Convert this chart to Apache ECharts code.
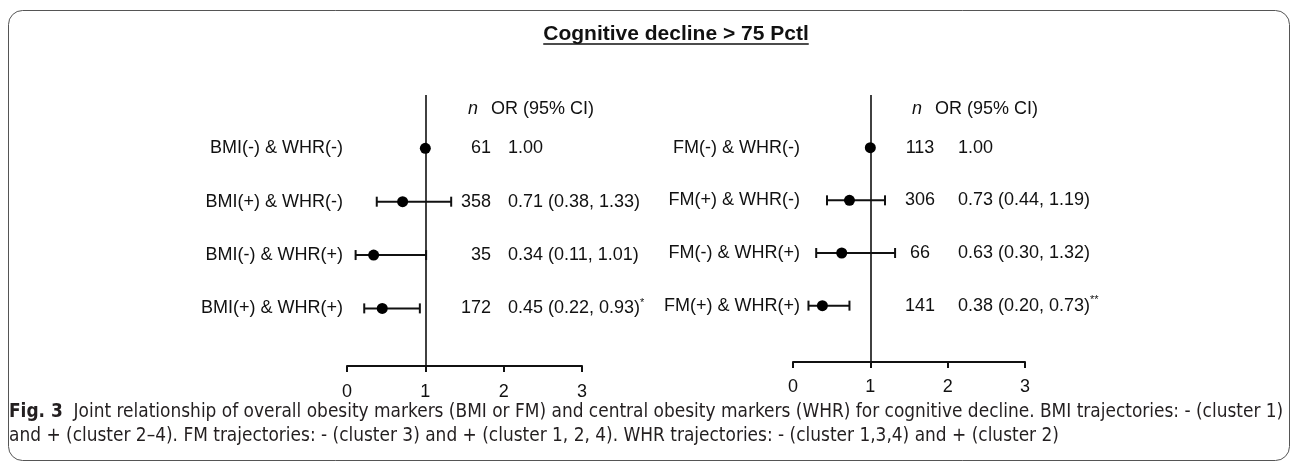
<!DOCTYPE html>
<html>
<head>
<meta charset="utf-8">
<title>Cognitive decline forest plot</title>
<script src="https://cdn.jsdelivr.net/npm/echarts@6/dist/echarts.min.js"></script>
<style>
  html, body { margin: 0; padding: 0; background: #fff; }
  #main { width: 1295px; height: 465px; }
</style>
</head>
<body>
<div id="main"></div>
<script>
// ---- data ----
var xTicks = [0, 1, 2, 3];
var rows = [1, 2, 3, 4];

var bmiLabels = ['BMI(-) & WHR(-)', 'BMI(+) & WHR(-)', 'BMI(-) & WHR(+)', 'BMI(+) & WHR(+)'];
var bmiN = [61, 358, 35, 172];
var bmiOR = [1.00, 0.71, 0.34, 0.45];
var bmiLow = [null, 0.38, 0.11, 0.22];
var bmiHigh = [null, 1.33, 1.01, 0.93];
var bmiSig = ['', '', '', '*'];

var fmLabels = ['FM(-) & WHR(-)', 'FM(+) & WHR(-)', 'FM(-) & WHR(+)', 'FM(+) & WHR(+)'];
var fmN = [113, 306, 66, 141];
var fmOR = [1.00, 0.73, 0.63, 0.38];
var fmLow = [null, 0.44, 0.30, 0.20];
var fmHigh = [null, 1.19, 1.32, 0.73];
var fmSig = ['', '', '', '**'];

var titleText = 'Cognitive decline > 75 Pctl';
var captionLead = 'Fig. 3';
var captionLine1 = 'Joint relationship of overall obesity markers (BMI or FM) and central obesity markers (WHR) for cognitive decline. BMI trajectories: - (cluster 1)';
var captionLine2 = 'and + (cluster 2\u20134). FM trajectories: - (cluster 3) and + (cluster 1, 2, 4). WHR trajectories: - (cluster 1,3,4) and + (cluster 2)';

// ---- layout ----
var FONT = '"Liberation Sans", Arial, sans-serif';
var CAPFONT = '"Liberation Sans Narrow", "DejaVu Sans Condensed", sans-serif';
var INK = '#111';
var CAPINK = '#231f20';

var panels = [
  { labels: bmiLabels, n: bmiN, or: bmiOR, low: bmiLow, high: bmiHigh, sig: bmiSig,
    grid: { left: 347, top: 95, width: 235, height: 271 }, yMax: 5.08, labelMargin: 17,
    labelRight: 343, nX: 491, nAlign: 'right', orX: 508, headNX: 473, headORX: 491 },
  { labels: fmLabels, n: fmN, or: fmOR, low: fmLow, high: fmHigh, sig: fmSig,
    grid: { left: 793, top: 95, width: 232, height: 267 }, yMax: 5.07, labelMargin: 16,
    labelRight: 800, nX: 920, nAlign: 'center', orX: 958, headNX: 917, headORX: 935 }
];

var chart = echarts.init(document.getElementById('main'), null, { renderer: 'canvas' });

var grids = [], xAxes = [], yAxes = [], series = [];

panels.forEach(function (p, k) {
  grids.push({ left: p.grid.left, top: p.grid.top, width: p.grid.width, height: p.grid.height });
  xAxes.push({
    type: 'value', gridIndex: k, position: 'bottom',
    min: xTicks[0], max: xTicks[xTicks.length - 1], interval: 1,
    splitLine: { show: false },
    axisLine: { show: true, onZero: false, lineStyle: { color: INK, width: 2 } },
    axisTick: { show: true, length: 6, lineStyle: { color: INK, width: 2 } },
    axisLabel: { color: INK, fontSize: 18, fontFamily: FONT, margin: p.labelMargin }
  });
  yAxes.push({
    type: 'value', gridIndex: k, min: 0, max: p.yMax, inverse: true, show: false
  });

  // reference line at OR = 1
  series.push({
    type: 'line', xAxisIndex: k, yAxisIndex: k, data: [], silent: true,
    markLine: {
      symbol: 'none', silent: true, label: { show: false },
      lineStyle: { color: INK, width: 1.6, type: 'solid' },
      data: [{ xAxis: 1 }]
    }
  });

  // confidence intervals with end caps
  series.push({
    type: 'custom', xAxisIndex: k, yAxisIndex: k, silent: true,
    data: rows.map(function (r, i) { return [r, p.low[i], p.high[i]]; })
      .filter(function (d) { return d[1] !== null; }),
    encode: { x: [1, 2], y: 0 },
    renderItem: function (params, api) {
      var r = api.value(0);
      var a = api.coord([api.value(1), r]);
      var b = api.coord([api.value(2), r]);
      var st = { stroke: INK, lineWidth: 2 };
      return { type: 'group', children: [
        { type: 'line', shape: { x1: a[0], y1: a[1], x2: b[0], y2: b[1] }, style: st },
        { type: 'line', shape: { x1: a[0], y1: a[1] - 5, x2: a[0], y2: a[1] + 5 }, style: st },
        { type: 'line', shape: { x1: b[0], y1: b[1] - 5, x2: b[0], y2: b[1] + 5 }, style: st }
      ] };
    }
  });

  // point estimates
  series.push({
    type: 'scatter', xAxisIndex: k, yAxisIndex: k, symbol: 'circle', symbolSize: 11,
    itemStyle: { color: '#000', opacity: 1 }, silent: true, z: 5,
    data: rows.map(function (r, i) { return [p.or[i], r]; })
  });

  // row texts: label, n, OR (95% CI); plus the column header
  series.push({
    type: 'custom', xAxisIndex: k, yAxisIndex: k, silent: true,
    data: rows.map(function (r, i) { return [1, r, i]; }).concat([[1, 0.27, -1]]),
    encode: { x: 0, y: 1 },
    renderItem: function (params, api) {
      var i = api.value(2);
      var y = api.coord([1, api.value(1)])[1];
      var font = '18px ' + FONT;
      if (i < 0) {
        return { type: 'group', children: [
          { type: 'text', style: { text: 'n', x: p.headNX, y: y, textAlign: 'center', textVerticalAlign: 'middle',
            font: 'italic 18px ' + FONT, fill: INK } },
          { type: 'text', style: { text: 'OR (95% CI)', x: p.headORX, y: y, textAlign: 'left', textVerticalAlign: 'middle',
            font: font, fill: INK } }
        ] };
      }
      var orTxt = p.or[i].toFixed(2);
      if (p.low[i] !== null) {
        orTxt += ' (' + p.low[i].toFixed(2) + ', ' + p.high[i].toFixed(2) + ')';
      }
      var rich = '{a|' + orTxt + '}' + (p.sig[i] ? '{s|' + p.sig[i] + '}' : '');
      return { type: 'group', children: [
        { type: 'text', style: { text: p.labels[i], x: p.labelRight, y: y, textAlign: 'right', textVerticalAlign: 'middle',
          font: font, fill: INK } },
        { type: 'text', style: { text: String(p.n[i]), x: p.nX, y: y, textAlign: p.nAlign, textVerticalAlign: 'middle',
          font: font, fill: INK } },
        { type: 'text', style: { text: rich, x: p.orX, y: y, textAlign: 'left', textVerticalAlign: 'middle',
          fill: INK,
          rich: {
            a: { fontSize: 18, fontFamily: FONT, color: INK, lineHeight: 22 },
            s: { fontSize: 11, fontFamily: FONT, color: INK, verticalAlign: 'top', lineHeight: 22 }
          } } }
      ] };
    }
  });
});

// measure title (for the underline) and fit the caption to the frame width
var ctx = document.createElement('canvas').getContext('2d');
ctx.font = 'bold 21px ' + FONT;
var titleW = ctx.measureText(titleText).width;
var titleCX = 676, titleY = 34;

ctx.font = 'bold 17px ' + CAPFONT;
var leadW = ctx.measureText(captionLead + '  ').width;
ctx.font = '17px ' + CAPFONT;
var bodyW = ctx.measureText(captionLine1).width;
var capSize = Math.round(17 * 1274 / (leadW + bodyW) * 10) / 10;

var option = {
  backgroundColor: '#fff',
  animation: false,
  grid: grids,
  xAxis: xAxes,
  yAxis: yAxes,
  series: series,
  graphic: [
    { type: 'rect', shape: { x: 8.5, y: 10.5, width: 1281, height: 450, r: 14 },
      style: { fill: 'none', stroke: '#555', lineWidth: 1 }, silent: true },
    { type: 'text', style: { text: titleText, x: titleCX, y: titleY, textAlign: 'center', textVerticalAlign: 'middle',
      font: 'bold 21px ' + FONT, fill: INK } },
    { type: 'line', shape: { x1: titleCX - titleW / 2, y1: titleY + 10, x2: titleCX + titleW / 2, y2: titleY + 10 },
      style: { stroke: INK, lineWidth: 1.5 } },
    { type: 'text', style: { text: '{b|' + captionLead + '}  ' + captionLine1, x: 9, y: 412, textVerticalAlign: 'middle',
      fill: CAPINK, font: capSize + 'px ' + CAPFONT,
      rich: { b: { fontWeight: 'bold', fontSize: capSize, fontFamily: CAPFONT, color: CAPINK } } } },
    { type: 'text', style: { text: captionLine2, x: 9, y: 436, textVerticalAlign: 'middle',
      fill: CAPINK, font: capSize + 'px ' + CAPFONT } }
  ]
};

chart.setOption(option);
</script>
</body>
</html>
